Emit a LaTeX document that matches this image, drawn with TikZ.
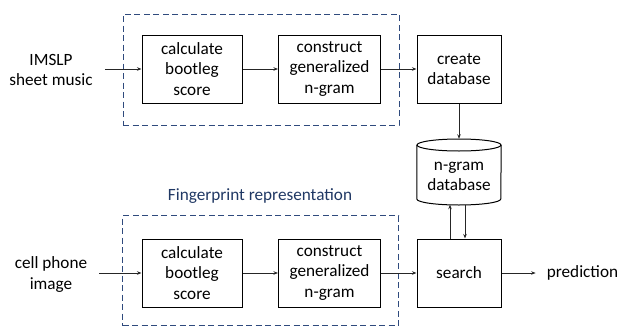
\documentclass[tikz,border=0pt]{standalone}
\usepackage{fontspec}
\setmainfont{Carlito}
\usetikzlibrary{arrows.meta}
\definecolor{navy}{HTML}{203864}
\definecolor{dashblue}{HTML}{2F4A7D}
\begin{document}
\begin{tikzpicture}[x=1pt,y=-1pt,
  txt/.style={font=\fontsize{17.2}{20.5}\selectfont,align=center},
  box/.style={txt,draw=black,line width=1pt,minimum width=100pt,minimum height=68pt,inner sep=0pt},
  arr/.style={-{Stealth[length=4.5pt,width=3.5pt]},line width=0.9pt,draw=black!85},
  dbox/.style={draw=dashblue,line width=1pt,dash pattern=on 6pt off 3.5pt,inner sep=0pt},
  cyl/.style={draw=black,line width=1pt}]
\useasboundingbox (0,0) rectangle (619,327);
% dashed groups
\node[dbox,minimum width=276pt,minimum height=111pt] (g1) at (261,69.5) {};
\node[dbox,minimum width=276pt,minimum height=110pt] (g2) at (260.5,270.5) {};
\node[txt,text=navy] (fp) at (260,196) {Fingerprint representation};
% top row
\node[txt,inner xsep=12pt] (in1) at (51,70) {IMSLP\\sheet music};
\node[box] (b1) at (192,69) {calculate\\bootleg\\score};
\node[box,minimum width=102pt] (b2) at (329.5,69) {construct\\generalized\\n-gram};
\node[box,minimum width=84pt] (cdb) at (459,69) {create\\database};
% database cylinder
\node[minimum width=84pt,minimum height=66pt,inner sep=0pt] (db) at (459,172) {};
\draw[cyl] (459,145) ellipse[x radius=42,y radius=6];
\draw[cyl] (db.west |- 0,145) -- (db.west |- 0,199) arc[start angle=180,end angle=0,x radius=42,y radius=6] -- (db.east |- 0,145);
\node[txt] (dbt) at (459,176.5) {n-gram\\database};
% bottom row
\node[txt,inner xsep=12pt] (in2) at (51,274.5) {cell phone\\image};
\node[box] (b3) at (192,273) {calculate\\bootleg\\score};
\node[box,minimum width=102pt] (b4) at (329.5,273) {construct\\generalized\\n-gram};
\node[box,minimum width=84pt] (srch) at (459,273) {search};
\node[txt,inner xsep=11pt] (pred) at (582.5,273) {prediction};
% connectors
\draw[arr] (in1.east |- b1.west) -- (b1.west);
\draw[arr] (b1) -- (b2);
\draw[arr] (b2) -- (cdb);
\draw[arr] (cdb) -- (db.north);
\draw[arr] (in2.east |- b3.west) -- (b3.west);
\draw[arr] (b3) -- (b4);
\draw[arr] (b4) -- (srch);
\draw[arr] (srch) -- (pred);
\draw[arr] ([xshift=-9pt]srch.north) -- ([xshift=-9pt,yshift=0.5pt]db.south);
\draw[arr] ([xshift=6pt,yshift=0.5pt]db.south) -- ([xshift=6pt]srch.north);
\end{tikzpicture}
\end{document}
